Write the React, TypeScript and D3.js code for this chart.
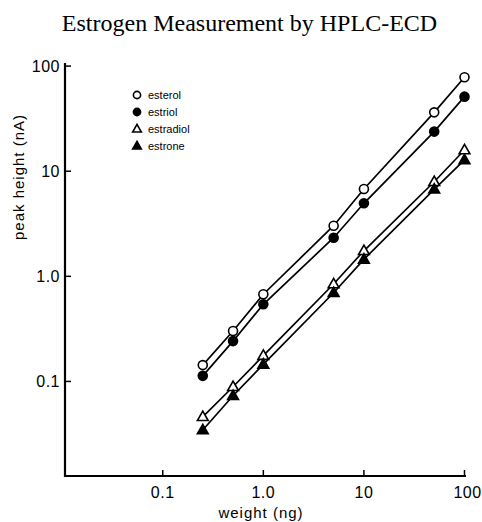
import React from "react";
import * as d3 from "d3";

const weights = [0.25, 0.5, 1.0, 5, 10, 50, 100];
const esterol = [0.143, 0.302, 0.675, 3.03, 6.78, 36.3, 78.2];
const estriol = [0.113, 0.242, 0.542, 2.33, 4.95, 23.8, 51.2];
const estradiol = [0.0461, 0.089, 0.176, 0.845, 1.75, 7.94, 15.9];
const estrone = [0.0345, 0.0731, 0.1455, 0.698, 1.45, 6.73, 12.8];
const seriesNames = ["esterol", "estriol", "estradiol", "estrone"];
const xTicks = [0.1, 1, 10, 100];
const xTickLabels = ["0.1", "1.0", "10", "100"];
const yTicks = [0.1, 1, 10, 100];
const yTickLabels = ["0.1", "1.0", "10", "100"];

const W = 482;
const H = 522;

const x = d3.scaleLog().domain([0.01067, 103.5]).range([65, 466]);
const y = d3.scaleLog().domain([0.0126, 107]).range([476, 63]);

const sans = "'Liberation Sans', Arial, sans-serif";

function Marker({ kind, cx, cy, s }: { kind: number; cx: number; cy: number; s: number }) {
  if (kind === 0 || kind === 1) {
    return (
      <circle cx={cx} cy={cy} r={s} fill={kind === 1 ? "#000" : "#fff"} stroke="#000" strokeWidth={1.6} />
    );
  }
  const h = s * 2.1;
  const half = s * 1.2;
  const pts = `${cx},${cy - h * 0.6} ${cx - half},${cy + h * 0.4} ${cx + half},${cy + h * 0.4}`;
  return <polygon points={pts} fill={kind === 3 ? "#000" : "#fff"} stroke="#000" strokeWidth={1.6} strokeLinejoin="miter" />;
}

export default function App() {
  const data = [esterol, estriol, estradiol, estrone];
  const line = d3
    .line<number>()
    .x((_, i) => x(weights[i]))
    .y((d) => y(d));
  return (
    <svg width={W} height={H} style={{ position: "absolute", left: 0, top: 0, background: "#fff" }}>
      <rect x={0} y={0} width={W} height={H} fill="#fff" />
      <text
        x={249.5}
        y={31}
        textAnchor="middle"
        fontFamily="'Liberation Serif', 'Times New Roman', serif"
        fontSize={24}
      >
        Estrogen Measurement by HPLC-ECD
      </text>
      {/* axes */}
      <path d={`M${x.range()[0]},${y.range()[1]} V${y.range()[0]} H${x.range()[1]}`} fill="none" stroke="#000" strokeWidth={2.2} />
      {yTicks.map((t, i) => (
        <g key={"y" + i}>
          <line x1={65} x2={71} y1={y(t)} y2={y(t)} stroke="#000" strokeWidth={1.5} />
          <text x={60} y={y(t)} dy="0.36em" textAnchor="end" fontFamily={sans} fontSize={16} letterSpacing={0.5}>
            {yTickLabels[i]}
          </text>
        </g>
      ))}
      {xTicks.map((t, i) => (
        <g key={"x" + i}>
          <line x1={x(t)} x2={x(t)} y1={476} y2={470} stroke="#000" strokeWidth={1.5} />
          <text x={x(t) + (i === 3 ? 3 : 0)} y={498} textAnchor="middle" fontFamily={sans} fontSize={16} letterSpacing={0.5}>
            {xTickLabels[i]}
          </text>
        </g>
      ))}
      <text x={261} y={518} textAnchor="middle" fontFamily={sans} fontSize={15} letterSpacing={1}>
        weight (ng)
      </text>
      <text
        transform={`translate(24,177) rotate(-90)`}
        textAnchor="middle"
        fontFamily={sans}
        fontSize={15}
        letterSpacing={1}
      >
        peak height (nA)
      </text>
      {/* lines */}
      {data.map((d, k) => (
        <path key={"l" + k} d={line(d) || ""} fill="none" stroke="#000" strokeWidth={1.7} />
      ))}
      {data.map((d, k) =>
        d.map((v, i) => <Marker key={`m${k}-${i}`} kind={k} cx={x(weights[i])} cy={y(v)} s={4.5} />)
      )}
      {/* legend */}
      {seriesNames.map((n, k) => (
        <g key={"lg" + k}>
          <Marker kind={k} cx={137} cy={95 + k * 17} s={3.6} />
          <text x={148} y={95 + k * 17} dy="0.35em" fontFamily={sans} fontSize={11}>
            {n}
          </text>
        </g>
      ))}
    </svg>
  );
}
